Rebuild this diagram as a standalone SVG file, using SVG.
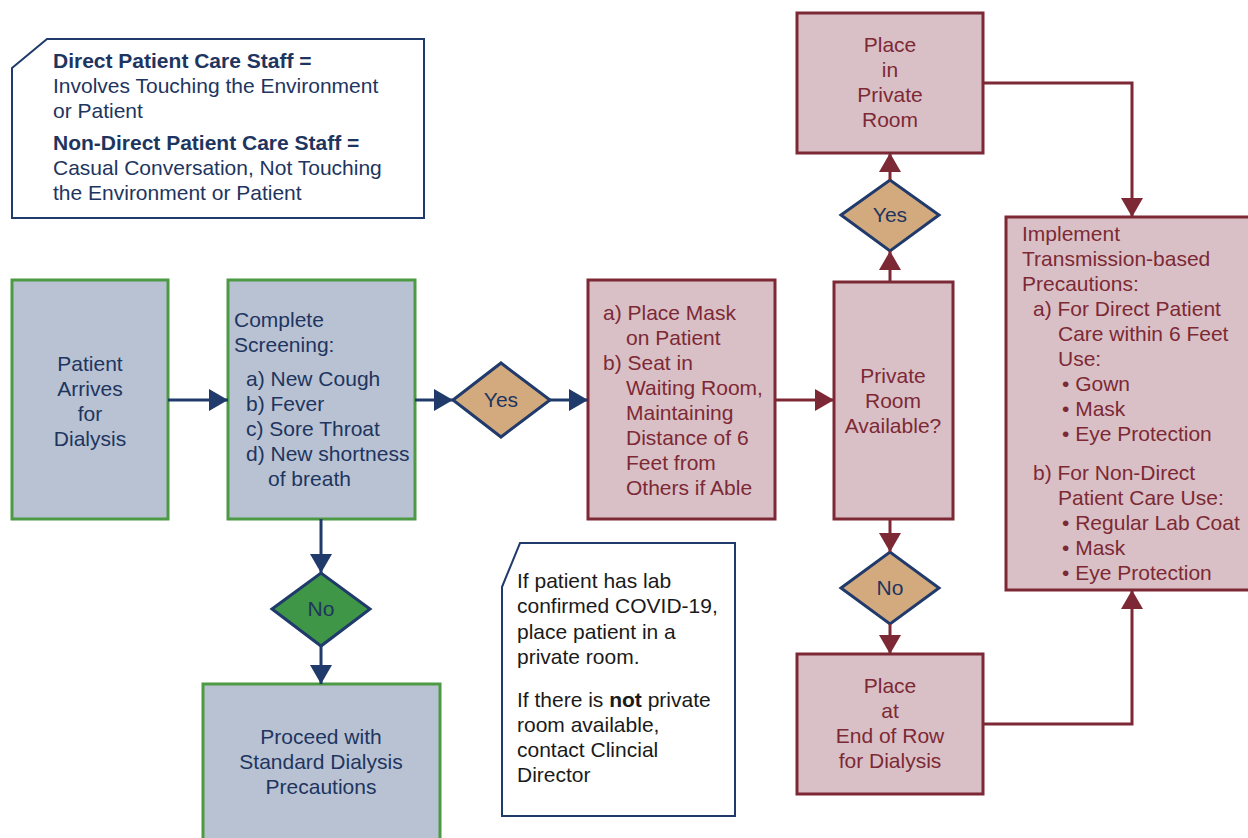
<svg xmlns="http://www.w3.org/2000/svg" width="1248" height="838" viewBox="0 0 1248 838">
<defs>
<marker id="an" markerUnits="userSpaceOnUse" markerWidth="19" markerHeight="22" refX="19" refY="11" orient="auto"><path d="M0,0 L19,11 L0,22 z" fill="#1f3a6b"/></marker>
<marker id="am" markerUnits="userSpaceOnUse" markerWidth="19" markerHeight="22" refX="19" refY="11" orient="auto"><path d="M0,0 L19,11 L0,22 z" fill="#7d2935"/></marker>
<style>
text{font-family:"Liberation Sans",Arial,sans-serif;font-size:21px}
.nv{fill:#1e3560}
.mr{fill:#7d2935}
.bk{fill:#1a1a1a}
.c{text-anchor:middle}
.b{font-weight:bold}
.gbox{fill:#b8c2d2;stroke:#4c9a44;stroke-width:3}
.pbox{fill:#d9c0c6;stroke:#7d2935;stroke-width:3}
.note{fill:#fff;stroke:#1f3a6b;stroke-width:2}
.dtan{fill:#d3aa7d;stroke:#1f3a6b;stroke-width:3}
.dgrn{fill:#3e9646;stroke:#1f3a6b;stroke-width:3}
.ln{fill:none;stroke:#1f3a6b;stroke-width:3}
.lm{fill:none;stroke:#7d2935;stroke-width:3}
</style>
</defs>
<rect width="1248" height="838" fill="#fff"/>

<g id="legend">
<polygon class="note" points="12,68 47,39 424,39 424,218 12,218"/>
<text class="nv b" x="53" y="68">Direct Patient Care Staff =</text>
<text class="nv" x="53" y="93">Involves Touching the Environment</text>
<text class="nv" x="53" y="118">or Patient</text>
<text class="nv b" x="53" y="150">Non-Direct Patient Care Staff =</text>
<text class="nv" x="53" y="175">Casual Conversation, Not Touching</text>
<text class="nv" x="53" y="200">the Environment or Patient</text>
</g>

<g id="arrives">
<rect class="gbox" x="12" y="280" width="156" height="239"/>
<text class="nv c" x="90" y="371">Patient</text>
<text class="nv c" x="90" y="396">Arrives</text>
<text class="nv c" x="90" y="421">for</text>
<text class="nv c" x="90" y="446">Dialysis</text>
</g>

<g id="screening">
<rect class="gbox" x="228" y="280" width="187" height="239"/>
<text class="nv" x="234" y="327">Complete</text>
<text class="nv" x="234" y="352">Screening:</text>
<text class="nv" x="246" y="386">a) New Cough</text>
<text class="nv" x="246" y="411">b) Fever</text>
<text class="nv" x="246" y="436">c) Sore Throat</text>
<text class="nv" x="246" y="461">d) New shortness</text>
<text class="nv" x="268" y="486">of breath</text>
</g>

<g id="yes1">
<polygon class="dtan" points="453,400 501,363 550,400 501,437"/>
<text class="nv c" x="501" y="407">Yes</text>
</g>

<g id="no1">
<polygon class="dgrn" points="272,609 321,573 370,609 321,646"/>
<text class="nv c" x="321" y="616">No</text>
</g>

<g id="proceed">
<rect class="gbox" x="203" y="684" width="237" height="170"/>
<text class="nv c" x="321" y="744">Proceed with</text>
<text class="nv c" x="321" y="769">Standard Dialysis</text>
<text class="nv c" x="321" y="794">Precautions</text>
</g>

<g id="mask">
<rect class="pbox" x="588" y="280" width="187" height="239"/>
<text class="mr" x="603" y="320">a) Place Mask</text>
<text class="mr" x="626" y="345">on Patient</text>
<text class="mr" x="603" y="370">b) Seat in</text>
<text class="mr" x="626" y="395">Waiting Room,</text>
<text class="mr" x="626" y="420">Maintaining</text>
<text class="mr" x="626" y="445">Distance of 6</text>
<text class="mr" x="626" y="470">Feet from</text>
<text class="mr" x="626" y="495">Others if Able</text>
</g>

<g id="note">
<polygon class="note" points="502,587 520,543 735,543 735,816 502,816"/>
<text class="bk" x="517" y="588">If patient has lab</text>
<text class="bk" x="517" y="613">confirmed COVID-19,</text>
<text class="bk" x="517" y="639">place patient in a</text>
<text class="bk" x="517" y="664">private room.</text>
<text class="bk" x="517" y="707">If there is <tspan class="b">not</tspan> private</text>
<text class="bk" x="517" y="732">room available,</text>
<text class="bk" x="517" y="757">contact Clincial</text>
<text class="bk" x="517" y="782">Director</text>
</g>

<g id="available">
<rect class="pbox" x="834" y="282" width="119" height="237"/>
<text class="mr c" x="893" y="383">Private</text>
<text class="mr c" x="893" y="408">Room</text>
<text class="mr c" x="893" y="433">Available?</text>
</g>

<g id="yes2">
<polygon class="dtan" points="841,215 890,180 939,215 890,251"/>
<text class="nv c" x="890" y="222">Yes</text>
</g>

<g id="no2">
<polygon class="dtan" points="841,588 890,552 939,588 890,624"/>
<text class="nv c" x="890" y="595">No</text>
</g>

<g id="private">
<rect class="pbox" x="797" y="13" width="186" height="140"/>
<text class="mr c" x="890" y="52">Place</text>
<text class="mr c" x="890" y="77">in</text>
<text class="mr c" x="890" y="102">Private</text>
<text class="mr c" x="890" y="127">Room</text>
</g>

<g id="endrow">
<rect class="pbox" x="797" y="654" width="186" height="140"/>
<text class="mr c" x="890" y="693">Place</text>
<text class="mr c" x="890" y="718">at</text>
<text class="mr c" x="890" y="743">End of Row</text>
<text class="mr c" x="890" y="768">for Dialysis</text>
</g>

<g id="implement">
<rect class="pbox" x="1006" y="217" width="260" height="373"/>
<text class="mr" x="1022" y="241">Implement</text>
<text class="mr" x="1022" y="266">Transmission-based</text>
<text class="mr" x="1022" y="291">Precautions:</text>
<text class="mr" x="1033" y="316">a) For Direct Patient</text>
<text class="mr" x="1058" y="341">Care within 6 Feet</text>
<text class="mr" x="1058" y="366">Use:</text>
<text class="mr" x="1062" y="391">• Gown</text>
<text class="mr" x="1062" y="416">• Mask</text>
<text class="mr" x="1062" y="441">• Eye Protection</text>
<text class="mr" x="1033" y="480">b) For Non-Direct</text>
<text class="mr" x="1058" y="505">Patient Care Use:</text>
<text class="mr" x="1062" y="530">• Regular Lab Coat</text>
<text class="mr" x="1062" y="555">• Mask</text>
<text class="mr" x="1062" y="580">• Eye Protection</text>
</g>

<g id="connectors">
<line class="ln" x1="168" y1="400" x2="228" y2="400" marker-end="url(#an)"/>
<line class="ln" x1="415" y1="400" x2="453" y2="400" marker-end="url(#an)"/>
<line class="ln" x1="550" y1="400" x2="588" y2="400" marker-end="url(#an)"/>
<line class="ln" x1="321" y1="519" x2="321" y2="573" marker-end="url(#an)"/>
<line class="ln" x1="321" y1="646" x2="321" y2="684" marker-end="url(#an)"/>
<line class="lm" x1="775" y1="400" x2="834" y2="400" marker-end="url(#am)"/>
<line class="lm" x1="890" y1="282" x2="890" y2="251" marker-end="url(#am)"/>
<line class="lm" x1="890" y1="180" x2="890" y2="153" marker-end="url(#am)"/>
<line class="lm" x1="890" y1="519" x2="890" y2="552" marker-end="url(#am)"/>
<line class="lm" x1="890" y1="624" x2="890" y2="654" marker-end="url(#am)"/>
<polyline class="lm" points="983,83 1132,83 1132,217" marker-end="url(#am)"/>
<polyline class="lm" points="983,724 1132,724 1132,590" marker-end="url(#am)"/>
</g>
</svg>
